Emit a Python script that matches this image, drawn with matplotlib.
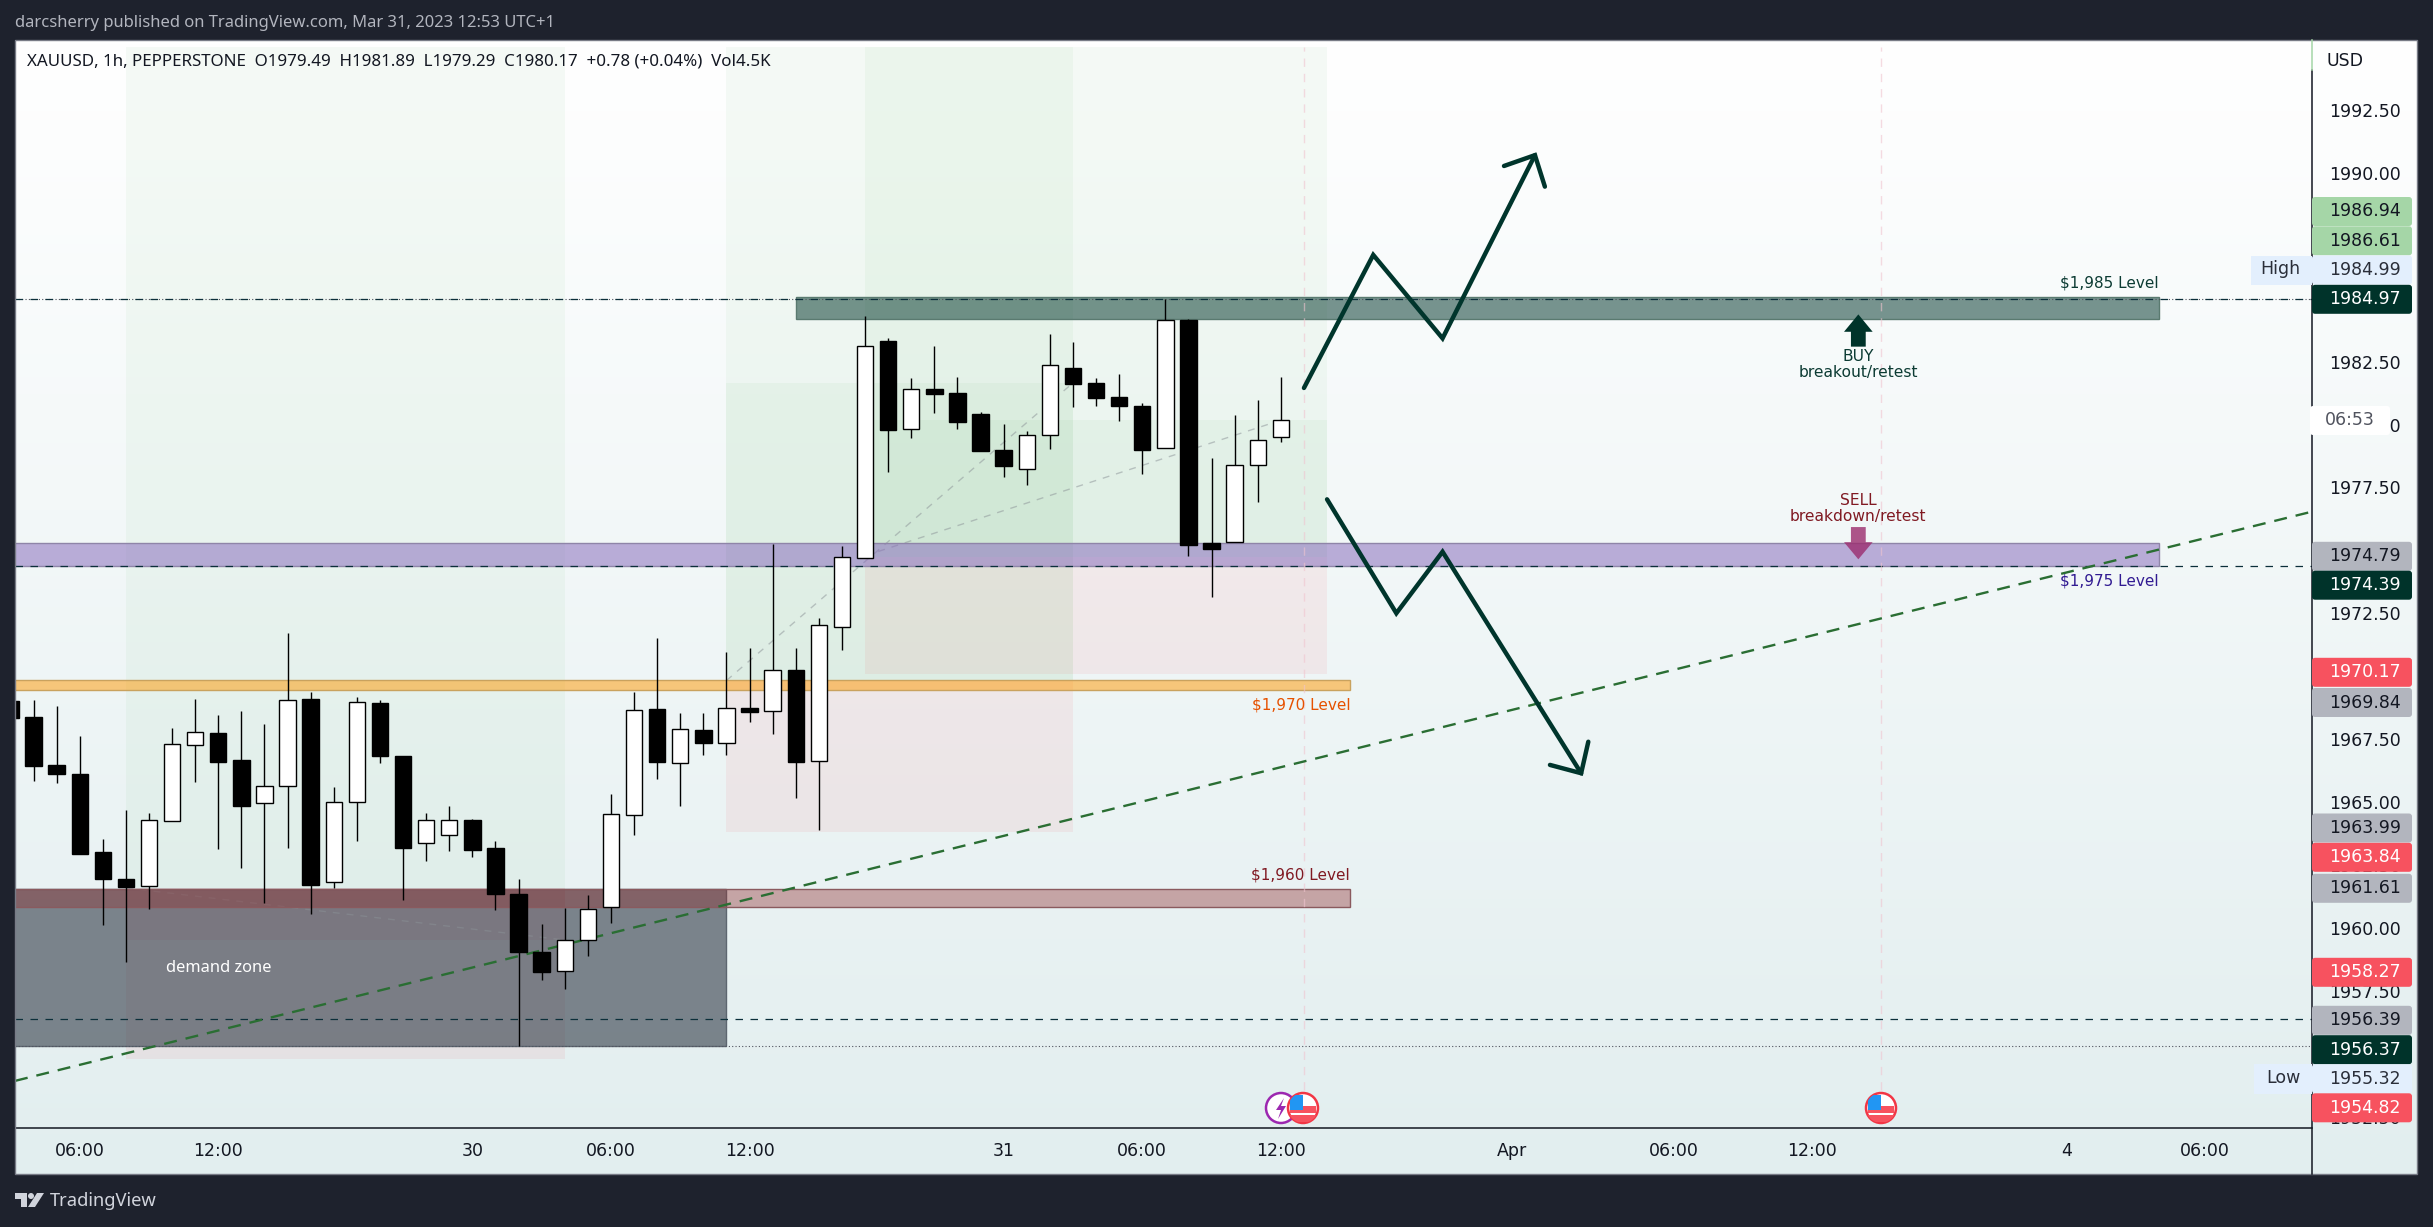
import numpy as np
import matplotlib
matplotlib.use('Agg')
import matplotlib.pyplot as plt
from matplotlib.patches import Rectangle, Circle, FancyBboxPatch, Polygon

# candles, 1h bars, index 0 is the clipped one at the left edge
opens = [1969.03, 1968.40, 1966.49, 1966.14, 1963.04, 1961.97, 1961.68, 1964.26, 1967.27, 1967.76,
         1966.69, 1964.97, 1965.65, 1969.11, 1961.84, 1965.01, 1968.95, 1966.85, 1963.38, 1963.70,
         1964.31, 1963.20, 1961.37, 1959.07, 1958.30, 1959.53, 1960.84, 1964.50, 1968.71, 1966.56,
         1967.88, 1967.35, 1968.75, 1968.62, 1970.24, 1966.63, 1971.97, 1974.69, 1983.31, 1979.81,
         1981.41, 1981.25, 1980.42, 1978.99, 1978.25, 1979.57, 1982.24, 1981.65, 1981.09, 1980.73,
         1979.05, 1984.15, 1975.30, 1975.35, 1978.38, 1979.49]
highs = [1969.10, 1969.07, 1968.82, 1967.64, 1963.56, 1964.69, 1964.57, 1967.96, 1969.11, 1968.46,
         1968.62, 1968.12, 1971.73, 1969.38, 1965.61, 1969.18, 1969.06, 1966.85, 1964.57, 1964.87,
         1964.34, 1963.46, 1961.96, 1960.18, 1960.80, 1961.33, 1965.33, 1969.38, 1971.53, 1968.56,
         1968.56, 1970.97, 1971.13, 1975.26, 1971.13, 1972.31, 1975.18, 1984.31, 1983.42, 1981.85,
         1983.12, 1981.89, 1980.48, 1980.02, 1979.73, 1983.59, 1983.27, 1981.85, 1982.00, 1980.84,
         1984.99, 1984.19, 1978.67, 1980.38, 1980.97, 1981.89]
lows = [1968.30, 1965.86, 1965.79, 1962.97, 1960.12, 1958.65, 1960.79, 1964.26, 1965.83, 1963.17,
        1962.38, 1960.99, 1963.21, 1960.59, 1961.62, 1963.49, 1966.58, 1961.11, 1962.66, 1963.09,
        1962.85, 1960.75, 1955.32, 1957.97, 1957.58, 1958.89, 1960.20, 1963.69, 1965.95, 1964.84,
        1966.90, 1966.88, 1968.20, 1967.73, 1965.19, 1963.92, 1971.06, 1974.69, 1978.13, 1979.48,
        1980.47, 1979.82, 1978.96, 1977.92, 1977.61, 1979.04, 1980.70, 1980.75, 1980.14, 1978.05,
        1979.05, 1974.80, 1973.17, 1975.35, 1976.94, 1979.29]
closes = [1968.37, 1966.43, 1966.11, 1962.97, 1961.98, 1961.66, 1964.30, 1967.31, 1967.79, 1966.62,
          1964.84, 1965.65, 1969.06, 1961.74, 1965.01, 1968.98, 1966.86, 1963.21, 1964.30, 1964.30,
          1963.13, 1961.35, 1959.05, 1958.29, 1959.53, 1960.76, 1964.53, 1968.66, 1966.62, 1967.91,
          1967.34, 1968.74, 1968.59, 1970.24, 1966.62, 1972.03, 1974.73, 1983.10, 1979.80, 1981.40,
          1981.22, 1980.11, 1978.96, 1978.37, 1979.57, 1982.35, 1981.62, 1981.07, 1980.75, 1979.00,
          1984.13, 1975.23, 1975.07, 1978.38, 1979.37, 1980.17]

# the ticks that sit fully under a price tag never show, so they are left out
price_ticks = [1952.5, 1957.5, 1960, 1962.5, 1965, 1967.5, 1972.5,
               1977.5, 1980, 1982.5, 1990, 1992.5]
time_ticks = [3, 9, 20, 26, 32, 43, 49, 55, 65, 72, 78, 89, 95]
time_labels = ['06:00', '12:00', '30', '06:00', '12:00', '31', '06:00', '12:00', 'Apr', '06:00', '12:00', '4', '06:00']

# position tools: (left bar, right bar, top price, bottom price)
green_zones = [(5, 24, 1995.0, 1961.61), (31, 46, 1995.0, 1969.84), (31, 46, 1981.65, 1969.84),
               (37, 57, 1995.0, 1974.74), (37, 57, 1980.17, 1974.74)]
red_zones = [(5, 24, 1961.61, 1954.82), (5, 24, 1961.61, 1959.54), (31, 46, 1969.84, 1963.84),
             (37, 57, 1974.74, 1970.10)]
tool_lines_x = [(5, 24), (31, 46), (37, 55)]
tool_lines_y = [(1961.61, 1959.54), (1969.84, 1981.65), (1974.79, 1980.17)]

trend_x = [0.2, 99.5]
trend_y = [1953.95, 1976.51]

level_high = 1984.99
level_low = 1955.32
dashed_levels = [1984.97, 1974.39, 1956.39]
event_bars = [56, 81]

up_path_x = [56, 59, 62, 66]
up_path_y = [1981.45, 1986.73, 1983.42, 1990.69]
up_head_x = [64.66, 66, 66.43]
up_head_y = [1990.26, 1990.69, 1989.44]
down_path_x = [57, 60, 62, 68]
down_path_y = [1977.03, 1972.51, 1974.95, 1966.16]
down_head_x = [66.65, 68, 68.31]
down_head_y = [1966.49, 1966.16, 1967.41]

tag_labels = ['1986.94', '1986.61', '1984.99', '1984.97', '1974.79', '1974.39', '1970.17', '1969.84',
              '1963.99', '1963.84', '1961.61', '1958.27', '1956.39', '1956.37', '1955.32', '1954.82']
tag_kinds = ['g', 'g', 'h', 'd', 's', 'd', 'r', 's', 's', 'r', 's', 'r', 's', 'd', 'h', 'r']
# tags get pushed apart by the platform, so these are pixel rows and not prices
tag_rows = [211.5, 240.8, 270, 299.3, 556.3, 585.2, 672.3, 702.5, 828, 857.3, 888.3, 972.3, 1020.3, 1049.7, 1078.8, 1107.8]
tag_colors = {'g': ('#a5d6a7', '#131722'), 'h': ('#e3effd', '#2a2e39'), 'd': ('#00332a', 'white'),
              's': ('#b2b5be', '#131722'), 'r': ('#f7525f', 'white')}

W, H = 2433, 1227
L, R, T, B = 15, 2312, 40, 1128
BG = '#1e222d'
DARK = '#00352c'
FONT = 'DejaVu Sans'
HFONT = 'Noto Sans'

fig = plt.figure(figsize=(W / 100, H / 100), dpi=100, facecolor=BG)

# panel gradient
bg = fig.add_axes([0, 0, 1, 1])
bg.axis('off')
c0, c1 = np.array([255, 255, 255]), np.array([226, 238, 239])
grad = np.linspace(0, 1, 256)[:, None, None] * (c1 - c0) + c0
bg.imshow(grad.astype(np.uint8), extent=[L, 2417, 1174, 40], aspect='auto', zorder=1)
bg.set_xlim(0, W)
bg.set_ylim(H, 0)

ax = fig.add_axes([L / W, 1 - B / H, (R - L) / W, (B - T) / H])
ax.patch.set_alpha(0)
ax.set_xlim(0.199, 99.64)
ax.set_ylim(1952.08, 1995.26)
for s in ['top', 'left', 'right']:
    ax.spines[s].set_visible(False)
ax.spines['bottom'].set_linewidth(1.1)
ax.spines['bottom'].set_color('#131722')


def zone(x0, x1, top, bottom, color, alpha, edge=None, z=1):
    ax.add_patch(Rectangle((x0, bottom), x1 - x0, top - bottom, facecolor=color, alpha=alpha, lw=0, zorder=z))
    if edge:
        ax.add_patch(Rectangle((x0, bottom), x1 - x0, top - bottom, fill=False, edgecolor=edge, lw=1, zorder=z))


for z_ in green_zones:
    zone(*z_, '#4caf50', 0.05)
for z_ in red_zones:
    zone(*z_, '#f23645', 0.07)
for xs, ys in zip(tool_lines_x, tool_lines_y):
    ax.plot(xs, ys, color='#8a9196', alpha=0.5, lw=1, ls=(0, (5, 5)), zorder=2)

# levels
zone(0, 31, 1961.57, 1955.35, '#212a37', 0.55, '#5d6670', 1.5)  # demand zone
zone(34, 93, 1985.05, 1984.2, '#00352a', 0.52, '#5a7a70', 2)
zone(0, 93, 1975.29, 1974.37, '#8a6fbe', 0.55, '#8f85a8', 2)
zone(0, 58, 1969.86, 1969.46, '#ff9800', 0.5, '#c9a25e', 2)
zone(0, 58, 1961.57, 1960.84, '#903032', 0.4, '#8a5a5e', 2)

ax.axhline(level_high, color='#50535e', lw=0.8, ls=(0, (1, 2)), zorder=3)
ax.axhline(level_low, color='#50535e', lw=0.8, ls=(0, (1, 2)), zorder=3)
for lv in dashed_levels:
    ax.axhline(lv, color='#0b2f3a', lw=0.9, ls=(0, (6, 6)), zorder=3)
ax.vlines(event_bars, 1953.6, 1995.0, color='#f0c4cf', lw=1, ls=(0, (6, 5)), alpha=0.6, zorder=3)
ax.plot(trend_x, trend_y, color='#2a6e33', lw=1.7, ls=(0, (5.5, 3.8)), zorder=3)

# candles
bar_x = np.arange(len(opens))
o, h, l, c = map(np.array, (opens, highs, lows, closes))
up = c > o
ax.vlines(bar_x, l, h, color='black', lw=1, zorder=5)
ax.bar(bar_x, np.abs(c - o), bottom=np.minimum(o, c), width=0.71, color=np.where(up, 'white', 'black'),
       edgecolor='black', linewidth=1, zorder=6)

# hand drawn scenario arrows
for xs, ys in [(up_path_x, up_path_y), (up_head_x, up_head_y), (down_path_x, down_path_y), (down_head_x, down_head_y)]:
    ax.plot(xs, ys, color=DARK, lw=3.2, solid_capstyle='round', solid_joinstyle='miter', zorder=7)

# small arrows next to the notes
ax.fill([79.38, 80, 80.62, 80.32, 80.32, 79.68, 79.68, 79.38],
        [1983.68, 1984.37, 1983.68, 1983.68, 1983.09, 1983.09, 1983.68, 1983.68], color='#00332a', lw=0, zorder=7)
ax.fill([79.38, 80, 80.62, 80.32, 80.32, 79.68, 79.68, 79.38],
        [1975.33, 1974.65, 1975.33, 1975.33, 1975.93, 1975.93, 1975.33, 1975.33], color='#9b2c6e', alpha=0.8, lw=0, zorder=7)

ax.text(93, 1985.62, '$1,985 Level', color='#0c3b33', fontsize=11, family=FONT, ha='right', va='center', zorder=8)
ax.text(93, 1973.80, '$1,975 Level', color='#311b92', fontsize=11, family=FONT, ha='right', va='center', zorder=8)
ax.text(58, 1968.87, '$1,970 Level', color='#e65100', fontsize=11, family=FONT, ha='right', va='center', zorder=8)
ax.text(58, 1962.12, '$1,960 Level', color='#801922', fontsize=11, family=FONT, ha='right', va='center', zorder=8)
ax.text(80, 1982.69, 'BUY', color='#0c3b33', fontsize=11.2, family=FONT, ha='center', va='center', zorder=8)
ax.text(80, 1982.06, 'breakout/retest', color='#0c3b33', fontsize=11.2, family=FONT, ha='center', va='center', zorder=8)
ax.text(80, 1976.98, 'SELL', color='#801922', fontsize=11.2, family=FONT, ha='center', va='center', zorder=8)
ax.text(80, 1976.34, 'breakdown/retest', color='#801922', fontsize=11.2, family=FONT, ha='center', va='center', zorder=8)
ax.text(9, 1958.43, 'demand zone', color='white', fontsize=11.8, family=HFONT, weight='bold', ha='center', va='center', zorder=8)

ax.set_xticks(time_ticks)
ax.set_xticklabels(time_labels, family=FONT, fontsize=12.5, color='#131722')
ax.set_yticks(price_ticks)
ax.set_yticklabels([f'{v:.2f}' for v in price_ticks], family=FONT, fontsize=12.5, color='#131722')
ax.yaxis.tick_right()
ax.tick_params(axis='x', length=0, pad=10)
ax.tick_params(axis='y', length=0, pad=12)
ax.text(0.0053, 0.98, 'XAUUSD, 1h, PEPPERSTONE  O1979.49  H1981.89  L1979.29  C1980.17  +0.78 (+0.04%)  Vol4.5K',
        transform=ax.transAxes, family=HFONT, fontsize=12.2, color='#131722', va='center', zorder=9)

# chrome on top, in pixels
top = fig.add_axes([0, 0, 1, 1])
top.patch.set_alpha(0)
top.set_xlim(0, W)
top.set_ylim(H, 0)
top.axis('off')

top.add_patch(Rectangle((L, 40), 2417 - L, 1174 - 40, fill=False, edgecolor='#787b86', lw=1))
top.plot([R, R], [70, 1174], color='#131722', lw=1.1)
top.plot([R, R], [40, 70], color='#a5d6a7', lw=1.1)
top.text(2327, 60.5, 'USD', family=FONT, fontsize=12.5, color='#131722', va='center')


def tag(x0, x1, y, color):
    top.add_patch(FancyBboxPatch((x0 + 2, y - 12.5), x1 - x0 - 4, 25, boxstyle='round,pad=2,rounding_size=3',
                                 facecolor=color, edgecolor='none', zorder=3))


top.add_patch(Rectangle((2251, 256), 61, 29, facecolor='#e3effd', zorder=3))
top.text(2280, 269.5, 'High', family=FONT, fontsize=12.5, color='#2a2e39', ha='center', va='center', zorder=4)
top.add_patch(Rectangle((2254, 1064), 58, 30, facecolor='#e3effd', zorder=3))
top.text(2283, 1078, 'Low', family=FONT, fontsize=12.5, color='#2a2e39', ha='center', va='center', zorder=4)
for txt, kind, row in zip(tag_labels, tag_kinds, tag_rows):
    col, tc = tag_colors[kind]
    tag(2312, 2412, row, col)
    top.text(2401, row, txt, family=FONT, fontsize=12.5, color=tc, ha='right', va='center', zorder=4)
top.add_patch(FancyBboxPatch((2312, 408), 76, 25, boxstyle='round,pad=2,rounding_size=3', facecolor='white',
                             edgecolor='none', zorder=3))
top.text(2350, 420, '06:53', family=FONT, fontsize=12.5, color='#50535e', ha='center', va='center', zorder=4)


def flag(cx, cy):
    rim = Circle((cx, cy), 15, facecolor='white', edgecolor='#f23645', lw=1.8, zorder=6)
    top.add_patch(rim)
    for y0 in [cy - 2, cy + 7]:
        p = Rectangle((cx - 13, y0), 26, 7, facecolor='#f7525f', zorder=6)
        top.add_patch(p)
        p.set_clip_path(rim)
    blue = Rectangle((cx - 13, cy - 13), 13, 15, facecolor='#2196f3', zorder=7)
    top.add_patch(blue)
    blue.set_clip_path(rim)


top.add_patch(Circle((1281, 1108), 15, facecolor='white', edgecolor='#9c27b0', lw=1.8, zorder=5))
top.add_patch(Polygon([(1284, 1098), (1276, 1110), (1281, 1110), (1278, 1119), (1286, 1106), (1281, 1106)],
                      facecolor='#9c27b0', zorder=5))
flag(1303, 1108)
flag(1881, 1108)

# header and footer
top.text(15, 23, 'darcsherry published on TradingView.com, Mar 31, 2023 12:53 UTC+1', family=HFONT,
         fontsize=11.95, color='#b2b5be', va='center')
top.add_patch(Polygon([(15, 1193), (27, 1193), (27, 1207), (21, 1207), (21, 1199), (15, 1199)], facecolor='#d1d4dc'))
top.add_patch(Circle((31, 1196), 3, facecolor='#d1d4dc'))
top.add_patch(Polygon([(37, 1193), (44, 1193), (35, 1207), (28, 1207)], facecolor='#d1d4dc'))
top.text(50, 1201, 'TradingView', family=HFONT, fontsize=13.2, color='#d1d4dc', va='center')

fig.savefig('out.png', dpi=100, facecolor=BG)
